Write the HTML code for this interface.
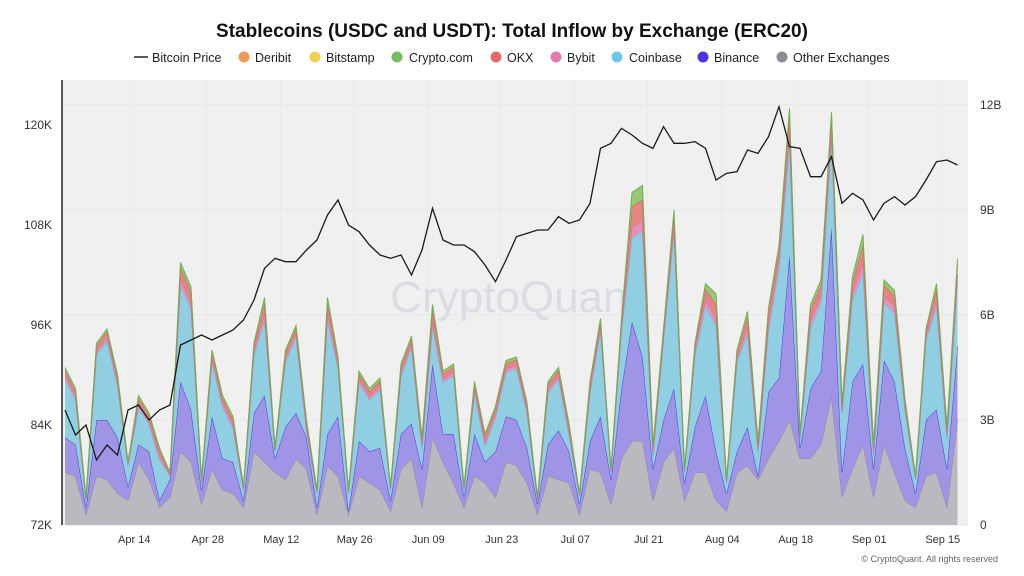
<!DOCTYPE html>
<html><head><meta charset="utf-8"><style>
body{margin:0;background:#fff;font-family:"Liberation Sans",sans-serif}
svg{display:block}
</style></head><body>
<svg id="c" width="1024" height="576" xmlns="http://www.w3.org/2000/svg">
<rect x="0" y="0" width="1024" height="576" fill="#fff"/>
<text x="512" y="37" text-anchor="middle" font-size="19" font-weight="bold" fill="#111">Stablecoins (USDC and USDT): Total Inflow by Exchange (ERC20)</text>
<g id="legend" font-size="12.5" fill="#222"></g>
<rect x="62" y="80" width="906" height="445" fill="#f0f0f0"/>
<g id="grid"></g>
<text x="515" y="312" text-anchor="middle" font-size="44" fill="#dcdce6">CryptoQuant</text>
<g id="areas"></g>
<g id="axes"></g>
<text x="998" y="562" text-anchor="end" font-size="9" fill="#666">© CryptoQuant. All rights reserved</text>
</svg>
<script>
const dayIdx=[0,2,4,6,8,10,12,14,16,18,20,22,24,26,28,30,32,34,36,38,40,42,44,46,48,50,52,54,56,58,60,62,64,66,68,70,72,74,76,78,80,82,84,86,88,90,92,94,96,98,100,102,104,106,108,110,112,114,116,118,120,122,124,126,128,130,132,134,136,138,140,142,144,146,148,150,152,154,156,158,160,162,164,166,168,170];
const other=[1.5,1.4,0.3,1.4,1.3,0.9,0.7,1.8,1.3,0.5,0.8,2.1,1.8,0.6,1.6,1.0,0.9,0.5,2.1,1.8,1.5,1.3,1.9,1.6,0.3,1.7,1.4,0.3,1.4,1.2,1.0,0.4,1.6,1.9,0.5,2.5,1.8,1.2,0.5,1.4,1.2,0.8,1.8,1.7,1.2,0.3,1.4,1.3,1.2,0.3,1.6,1.5,0.6,1.9,2.4,2.4,0.7,1.8,2.2,0.7,1.5,1.5,0.7,0.4,1.5,1.7,1.3,1.9,2.4,3.0,1.9,1.9,2.3,3.7,0.8,1.6,2.3,0.8,2.3,1.5,0.7,0.5,1.4,1.5,0.5,3.0];
const binance=[1.0,0.9,0.2,1.6,1.7,1.6,0.4,0.5,0.8,0.2,0.5,2.0,1.5,0.4,1.5,0.9,0.9,0.2,1.1,1.9,0.4,1.5,1.3,0.9,0.2,0.9,1.7,0.1,1.0,0.9,1.2,0.3,1.0,1.0,1.1,2.1,0.8,1.4,0.3,1.2,0.6,1.3,1.3,1.3,1.0,0.3,0.9,1.4,0.9,0.3,0.8,1.6,0.7,2.0,3.4,2.4,0.9,1.2,1.7,0.5,1.3,2.2,1.4,0.5,0.6,1.1,0.1,1.9,1.8,4.7,0.3,2.0,2.1,4.8,0.7,2.5,2.3,0.8,2.4,2.6,1.5,0.4,1.6,1.8,1.1,2.1];
const coinbase=[1.67,1.27,0.2,1.87,2.27,1.47,0.6,1.07,0.77,1.17,0.1,2.75,2.85,0.2,1.57,1.47,0.97,0.3,1.67,2.15,0.2,1.87,2.17,0.17,0.4,3.25,1.37,0.5,1.67,1.47,1.67,0.3,1.67,2.17,0.57,1.05,1.47,1.67,0.2,1.17,0.47,0.97,1.27,1.47,0.97,0.1,1.47,1.47,0.47,0.2,1.37,2.47,0.2,1.67,2.4,3.6,0.37,2.27,4.45,0.3,2.07,2.55,3.6,0.3,2.57,2.65,0.67,1.75,3.15,3.2,0.3,1.75,1.95,2.5,1.67,2.35,2.6,0.37,1.65,1.95,1.07,0.4,2.27,2.95,0.87,1.85];
const bybit=[.1,.1,.03,.1,.1,.1,.03,.1,.1,.1,.03,.2,.2,.03,.1,.1,.1,.03,.1,.2,.03,.1,.1,.1,.03,.2,.1,.03,.1,.1,.1,.03,.1,.1,.1,.2,.1,.1,.03,.1,.1,.1,.1,.1,.1,.03,.1,.1,.1,.03,.1,.1,.03,.1,.3,.3,.1,.1,.2,.03,.1,.2,.2,.03,.1,.2,.1,.2,.2,.3,.03,.2,.2,.2,.1,.2,.3,.1,.2,.2,.1,.03,.1,.2,.1,.2];
const okx=[.15,.15,.05,.15,.15,.15,.05,.15,.15,.15,.05,.3,.3,.05,.15,.15,.15,.05,.15,.3,.05,.15,.15,.15,.05,.3,.15,.05,.15,.15,.15,.05,.15,.15,.15,.3,.15,.15,.05,.15,.15,.15,.15,.15,.15,.05,.15,.15,.15,.05,.15,.15,.05,.15,.6,.6,.15,.15,.3,.05,.15,.3,.4,.05,.15,.3,.15,.3,.3,.5,.05,.3,.3,.5,.15,.3,.5,.15,.3,.3,.15,.05,.15,.3,.15,.3];
const cryptoCom=[.08,.08,.02,.08,.08,.08,.02,.08,.08,.08,.02,.15,.15,.02,.08,.08,.08,.02,.08,.15,.02,.08,.08,.08,.02,.15,.08,.02,.08,.08,.08,.02,.08,.08,.08,.15,.08,.08,.02,.08,.08,.08,.08,.08,.08,.02,.08,.08,.08,.02,.08,.08,.02,.08,.4,.4,.08,.08,.15,.02,.08,.15,.3,.02,.08,.15,.08,.15,.15,.2,.02,.15,.15,.1,.08,.15,.3,.08,.15,.15,.08,.02,.08,.15,.08,.15];
const price=[85.8,82.8,84.0,79.8,81.6,80.4,85.8,86.4,84.6,85.8,86.4,93.6,94.2,94.8,94.2,94.8,95.4,96.6,99,102.8,104.0,103.6,103.6,105,106.2,109.2,111,108,107.2,105.6,104.4,104,104.4,102,105,110,106.2,105.6,105.6,104.8,103.2,101.2,103.8,106.6,107,107.4,107.4,109,108.2,108.6,110.6,117.2,117.8,119.6,118.8,117.8,117.2,119.8,117.8,117.8,118,117.2,113.4,114.2,114.4,117,116.6,118.6,122.2,117.4,117.2,113.8,113.8,116.2,110.6,111.8,111,108.6,110.6,111.4,110.4,111.4,113.4,115.6,115.8,115.2];
const tickDays=[13,27,41,55,69,83,97,111,125,139,153,167];
const tickLabels=["Apr 14","Apr 28","May 12","May 26","Jun 09","Jun 23","Jul 07","Jul 21","Aug 04","Aug 18","Sep 01","Sep 15"];
const leftTicks=[72,84,96,108,120];
const rightTicks=[0,3,6,9,12];

const NS="http://www.w3.org/2000/svg";
const X=d=>65+d*5.25;
const YR=v=>525-v*35;
const YL=p=>525-(p-72)*100/12;
function mk(tag,attrs,parent){const e=document.createElementNS(NS,tag);for(const k in attrs)e.setAttribute(k,attrs[k]);parent.appendChild(e);return e;}

const grid=document.getElementById('grid'),axes=document.getElementById('axes'),areas=document.getElementById('areas'),legend=document.getElementById('legend');
rightTicks.forEach(v=>{const l=mk('line',{x1:62,x2:968,y1:YR(v),y2:YR(v),stroke:'#e6e6e6','stroke-width':1},grid);

});
tickDays.forEach((d,i)=>{const l=mk('line',{x1:X(d),x2:X(d),y1:80,y2:525,stroke:'#e8e8e8','stroke-width':1},grid);


const t=mk('text',{x:X(d)+1,y:543,'text-anchor':'middle','font-size':11,fill:'#333'},axes);t.textContent=tickLabels[i];

});
leftTicks.forEach(v=>{const t=mk('text',{x:52,y:YL(v)+4,'text-anchor':'end','font-size':12,fill:'#333'},axes);t.textContent=v+'K';

});
rightTicks.forEach(v=>{const t=mk('text',{x:980,y:YR(v)+4,'font-size':12,fill:'#333'},axes);t.textContent=v===0?'0':v+'B';

});
const ax=mk('line',{x1:62,x2:62,y1:80,y2:525,stroke:'#222','stroke-width':1.5},axes);



const series=[
 {n:'other',d:other,f:'#bab9c0',s:'#8e8e96'},
 {n:'binance',d:binance,f:'#a094e6',s:'#4b3ae0'},
 {n:'coinbase',d:coinbase,f:'#8fcfe1',s:'#5bbfdc'},
 {n:'bybit',d:bybit,f:'#e493b8',s:'#e06aa0'},
 {n:'okx',d:okx,f:'#e58585',s:'#e05c5c'},
 {n:'crypto-com',d:cryptoCom,f:'#96c878',s:'#6cb34a'}];
let base=dayIdx.map(()=>0);
series.forEach(s=>{
 const top=base.map((b,i)=>b+s.d[i]);
 let p='M'+dayIdx.map((d,i)=>X(d)+','+YR(top[i])).join('L');
 p+='L'+dayIdx.slice().reverse().map((d,j)=>{const i=dayIdx.length-1-j;return X(d)+','+YR(base[i]);}).join('L')+'Z';
 const a=mk('path',{d:p,fill:s.f,stroke:'none'},areas);
 
 
 const l=mk('path',{d:'M'+dayIdx.map((d,i)=>X(d)+','+YR(top[i])).join('L'),fill:'none',stroke:s.s,'stroke-width':1},areas);
 
 
 base=top;});
const pl=mk('path',{d:'M'+dayIdx.map((d,i)=>X(d)+','+YL(price[i])).join('L'),fill:'none',stroke:'#1a1a1a','stroke-width':1.3},areas);



const leg=[['Deribit','#ef9a5a',244,255],['Bitstamp','#efcf55',315,326],['Crypto.com','#74bd5e',397,409],['OKX','#e56a6a',496,507],['Bybit','#e27aae',556,567],['Coinbase','#6cc8e3',617,629],['Binance','#4a35e3',703,714],['Other Exchanges','#8d8c96',782,793]];
const bl=mk('line',{x1:134,x2:148,y1:57,y2:57,stroke:'#222','stroke-width':1.5},legend);


const bt=mk('text',{x:152,y:62},legend);bt.textContent='Bitcoin Price';


leg.forEach(e=>{const c=mk('circle',{cx:e[2],cy:57,r:5.5,fill:e[1]},legend);


const t=mk('text',{x:e[3],y:62},legend);t.textContent=e[0];

});
</script>
</body></html>
